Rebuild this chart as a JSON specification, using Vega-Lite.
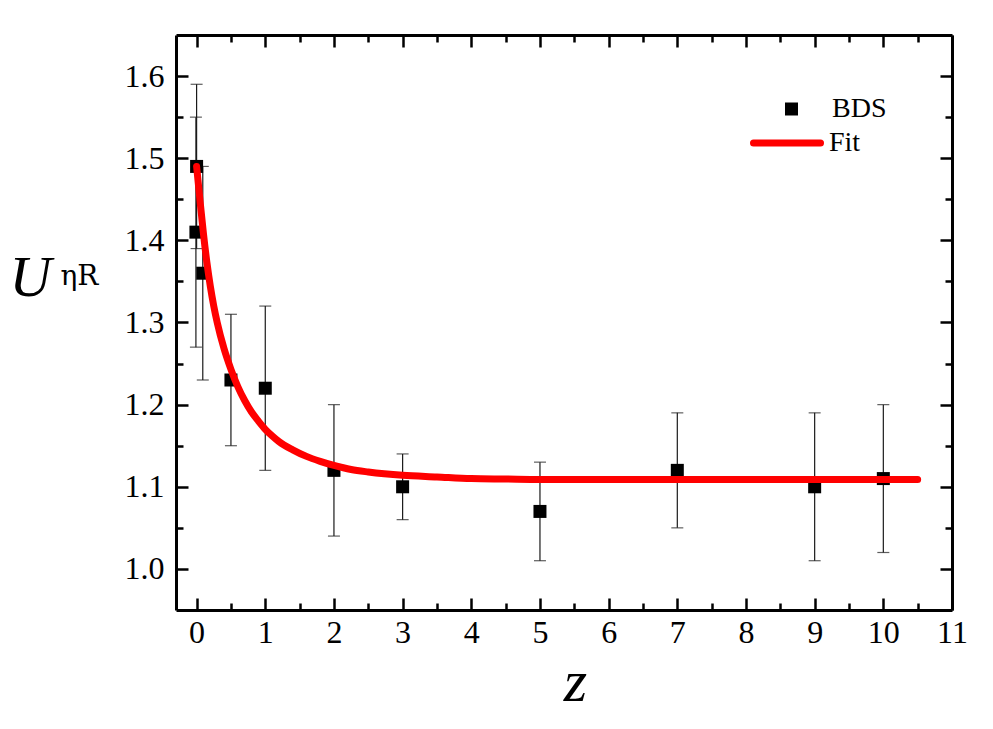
{
  "$schema": "https://vega.github.io/schema/vega-lite/v6.json",
  "width": 776,
  "height": 575,
  "autosize": "none",
  "padding": {"left": 176, "top": 35, "right": 41, "bottom": 119},
  "background": "white",
  "datasets": {
    "pts": [
      {"x": 0, "y": 1.49, "lo": 1.39, "hi": 1.59},
      {"x": -0.01, "y": 1.41, "lo": 1.27, "hi": 1.55},
      {"x": 0.09, "y": 1.36, "lo": 1.23, "hi": 1.49},
      {"x": 0.5, "y": 1.23, "lo": 1.15, "hi": 1.31},
      {"x": 1, "y": 1.22, "lo": 1.12, "hi": 1.32},
      {"x": 2, "y": 1.12, "lo": 1.04, "hi": 1.20},
      {"x": 3, "y": 1.10, "lo": 1.06, "hi": 1.14},
      {"x": 5, "y": 1.07, "lo": 1.01, "hi": 1.13},
      {"x": 7, "y": 1.12, "lo": 1.05, "hi": 1.19},
      {"x": 9, "y": 1.10, "lo": 1.01, "hi": 1.19},
      {"x": 10, "y": 1.11, "lo": 1.02, "hi": 1.20}
    ],
    "fit": [
      {"x": 0, "y": 1.490},
      {"x": 0.05, "y": 1.448},
      {"x": 0.1, "y": 1.408},
      {"x": 0.15, "y": 1.373},
      {"x": 0.2, "y": 1.344},
      {"x": 0.25, "y": 1.320},
      {"x": 0.3, "y": 1.300},
      {"x": 0.4, "y": 1.268},
      {"x": 0.5, "y": 1.243},
      {"x": 0.6, "y": 1.222},
      {"x": 0.7, "y": 1.205},
      {"x": 0.8, "y": 1.191},
      {"x": 0.9, "y": 1.180},
      {"x": 1.0, "y": 1.170},
      {"x": 1.1, "y": 1.162},
      {"x": 1.2, "y": 1.155},
      {"x": 1.4, "y": 1.145},
      {"x": 1.6, "y": 1.137},
      {"x": 1.8, "y": 1.131},
      {"x": 2.0, "y": 1.126},
      {"x": 2.25, "y": 1.121},
      {"x": 2.5, "y": 1.118},
      {"x": 3.0, "y": 1.114},
      {"x": 3.5, "y": 1.112},
      {"x": 4.0, "y": 1.110},
      {"x": 4.5, "y": 1.1095},
      {"x": 5.0, "y": 1.109},
      {"x": 6.0, "y": 1.109},
      {"x": 8.0, "y": 1.109},
      {"x": 10.5, "y": 1.109}
    ]
  },
  "resolve": {"axis": {"x": "independent", "y": "independent"}},
  "layer": [
    {
      "data": {"name": "pts"},
      "mark": {"type": "rule", "color": "#1a1a1a", "strokeWidth": 1.2},
      "encoding": {
        "x": {"field": "x", "type": "quantitative",
          "scale": {"domain": [-0.3, 11], "nice": false, "zero": false},
          "axis": {"orient": "bottom", "values": [0,1,2,3,4,5,6,7,8,9,10,11], "ticks": false, "domain": true,
            "labelPadding": 7, "labelFlush": false, "labelOverlap": false,
            "title": "z", "titleFontStyle": "italic", "titleFontSize": 60, "titleFontWeight": "normal",
            "titleX": 399, "titleY": 90, "titleAlign": "center", "titleBaseline": "alphabetic"}},
        "y": {"field": "lo", "type": "quantitative",
          "scale": {"domain": [0.95, 1.65], "nice": false, "zero": false},
          "axis": {"orient": "left", "values": [1.0,1.1,1.2,1.3,1.4,1.5,1.6], "format": ".1f", "ticks": false, "domain": true,
            "labelPadding": 12, "labelFlush": false, "labelOverlap": false,
            "title": "U", "titleAngle": 0, "titleFontStyle": "italic", "titleFontSize": 58, "titleFontWeight": "normal",
            "titleX": -167, "titleY": 260, "titleAlign": "left", "titleBaseline": "alphabetic"}},
        "y2": {"field": "hi"}
      }
    },
    {
      "data": {"name": "pts"},
      "mark": {"type": "tick", "orient": "horizontal", "color": "#1a1a1a", "thickness": 1.2, "size": 12},
      "encoding": {
        "x": {"field": "x", "type": "quantitative",
          "scale": {"domain": [-0.3, 11], "nice": false, "zero": false},
          "axis": {"orient": "bottom", "values": [0,1,2,3,4,5,6,7,8,9,10,11], "labels": false, "domain": false, "tickSize": -12, "title": null}},
        "y": {"field": "lo", "type": "quantitative",
          "scale": {"domain": [0.95, 1.65], "nice": false, "zero": false},
          "axis": {"orient": "left", "values": [1.0,1.1,1.2,1.3,1.4,1.5,1.6], "labels": false, "domain": false, "tickSize": -12,
            "title": "ηR", "titleAngle": 0, "titleFont": "DejaVu Serif", "titleFontSize": 28, "titleFontWeight": "normal", "titleFontStyle": "normal",
            "titleX": -116, "titleY": 249, "titleAlign": "left", "titleBaseline": "alphabetic"}}
      }
    },
    {
      "data": {"name": "pts"},
      "mark": {"type": "tick", "orient": "horizontal", "color": "#1a1a1a", "thickness": 1.2, "size": 12},
      "encoding": {
        "x": {"field": "x", "type": "quantitative",
          "scale": {"domain": [-0.3, 11], "nice": false, "zero": false},
          "axis": {"orient": "bottom", "values": [0.5,1.5,2.5,3.5,4.5,5.5,6.5,7.5,8.5,9.5,10.5], "labels": false, "domain": false, "tickSize": -7, "title": null}},
        "y": {"field": "hi", "type": "quantitative",
          "scale": {"domain": [0.95, 1.65], "nice": false, "zero": false},
          "axis": {"orient": "left", "values": [1.05,1.15,1.25,1.35,1.45,1.55], "labels": false, "domain": false, "tickSize": -7, "title": null}}
      }
    },
    {
      "data": {"name": "pts"},
      "mark": {"type": "point", "filled": true, "color": "black", "opacity": 1, "size": 169},
      "encoding": {
        "x": {"field": "x", "type": "quantitative",
          "scale": {"domain": [-0.3, 11], "nice": false, "zero": false},
          "axis": {"orient": "top", "values": [0,1,2,3,4,5,6,7,8,9,10,11], "labels": false, "domain": true, "tickSize": -12, "title": null}},
        "y": {"field": "y", "type": "quantitative",
          "scale": {"domain": [0.95, 1.65], "nice": false, "zero": false},
          "axis": {"orient": "right", "values": [1.0,1.1,1.2,1.3,1.4,1.5,1.6], "labels": false, "domain": true, "tickSize": -12, "title": null}},
        "shape": {"datum": "BDS", "scale": {"range": ["square"]},
          "legend": {"orient": "none", "legendX": 601.5, "legendY": 60, "title": null, "padding": 0,
            "symbolSize": 169, "symbolFillColor": "black", "symbolStrokeColor": "black", "symbolStrokeWidth": 0,
            "labelFontSize": 28, "labelOffset": 26.5, "labelFont": "Liberation Serif", "labelColor": "black"}}
      }
    },
    {
      "data": {"name": "fit"},
      "mark": {"type": "line", "strokeWidth": 7, "strokeCap": "round", "interpolate": "monotone"},
      "encoding": {
        "x": {"field": "x", "type": "quantitative",
          "scale": {"domain": [-0.3, 11], "nice": false, "zero": false},
          "axis": {"orient": "top", "values": [0.5,1.5,2.5,3.5,4.5,5.5,6.5,7.5,8.5,9.5,10.5], "labels": false, "domain": false, "tickSize": -7, "title": null}},
        "y": {"field": "y", "type": "quantitative",
          "scale": {"domain": [0.95, 1.65], "nice": false, "zero": false},
          "axis": {"orient": "right", "values": [1.05,1.15,1.25,1.35,1.45,1.55], "labels": false, "domain": false, "tickSize": -7, "title": null}},
        "color": {"datum": "Fit", "scale": {"range": ["#ff0000"]},
          "legend": {"orient": "none", "legendX": 574, "legendY": 71, "title": null, "padding": 0,
            "symbolType": "stroke", "symbolSize": 4489, "symbolStrokeWidth": 7,
            "labelFontSize": 28, "labelOffset": 5, "labelFont": "Liberation Serif", "labelColor": "black",
            "encode": {"symbols": {"update": {"strokeCap": {"value": "round"}}}}}}
      }
    }
  ],
  "config": {
    "view": {"stroke": null},
    "font": "Liberation Serif",
    "axis": {
      "grid": false,
      "labelFont": "Liberation Serif",
      "labelFontSize": 32,
      "labelColor": "black",
      "domainColor": "black",
      "domainWidth": 3,
      "tickColor": "black",
      "tickWidth": 2.5,
      "titleFont": "Liberation Serif",
      "titleColor": "black"
    }
  }
}
